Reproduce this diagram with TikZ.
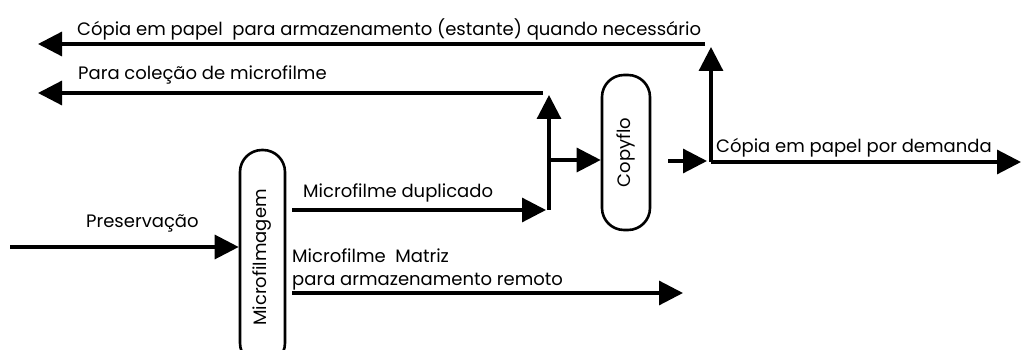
\documentclass[tikz,border=0pt]{standalone}
\usepackage{fontspec}
\setmainfont{Poppins}
\usetikzlibrary{arrows.meta}
\begin{document}
\begin{tikzpicture}[x=1pt,y=-1pt,
  flow/.style={line width=3.2pt, -{Triangle[length=24pt,width=24pt]}},
  proc/.style={draw, line width=2.6pt, rounded corners=22pt, inner sep=0pt},
  lbl/.style={font=\fontsize{18}{20}\selectfont, inner sep=0pt, anchor=base west}]
\useasboundingbox (0,0) rectangle (1021,350);
\clip (0,0) rectangle (1021,350);
% process boxes
\node[proc, minimum width=45pt, minimum height=215pt] (mic) at (262.5,257.5) {\rotatebox{90}{\fontsize{18}{20}\selectfont Microfilmagem}};
\node[proc, minimum width=48pt, minimum height=155pt] (cop) at (626,152.5) {\rotatebox{90}{\fontsize{18}{20}\selectfont Copyflo}};
% coordinates
\coordinate (pin) at (10,247);
\coordinate (dupS) at (292,210);
\coordinate (dupE) at (546,210);
\coordinate (jB) at (549,210);
\coordinate (jT) at (549,95);
\coordinate (jM) at (549,160);
\coordinate (colS) at (543,93);
\coordinate (colE) at (38,93);
\coordinate (matS) at (292,293);
\coordinate (matE) at (683,293);
\coordinate (outS) at (668,161);
\coordinate (outE) at (707,161);
\coordinate (dB) at (711,162);
\coordinate (dT) at (711,47);
\coordinate (dE) at (1021,162);
\coordinate (topS) at (705,44);
\coordinate (topE) at (38,44);
% connectors
\draw[flow] (pin) -- (pin -| mic.west);
\draw[flow] (dupS) -- (dupE);
\draw[flow] (jB) -- (jT);
\draw[flow] (jM) -- (jM -| cop.west);
\draw[flow] (colS) -- (colE);
\draw[flow] (matS) -- (matE);
\draw[flow] (outS) -- (outE);
\draw[flow] (dB) -- (dT);
\draw[flow] (dB) -- (dE);
\draw[flow] (topS) -- (topE);
% labels
\node[lbl] (t1) at (77,36) {Cópia em papel\ \ para armazenamento (estante) quando necessário};
\node[lbl] (t2) at (78,80) {Para coleção de microfilme};
\node[lbl] (t3) at (86,228) {Preservação};
\node[lbl] (t4) at (303,197) {Microfilme duplicado};
\node[lbl] (t5) at (292,262) {Microfilme\ \ Matriz};
\node[lbl] (t6) at (292,285) {para armazenamento remoto};
\node[lbl] (t7) at (716,153) {Cópia em papel por demanda};
\end{tikzpicture}
\end{document}
